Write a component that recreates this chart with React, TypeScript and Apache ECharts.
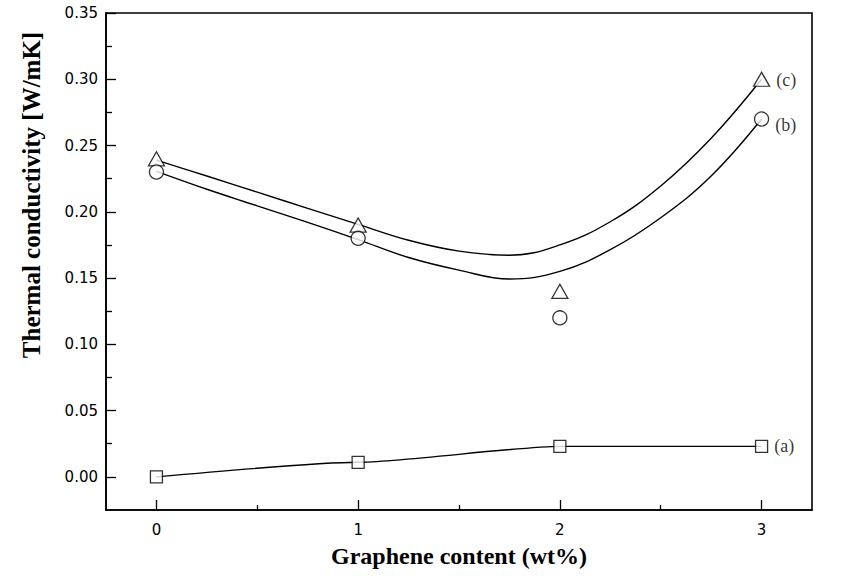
import React, { useEffect, useRef } from "react";
import * as echarts from "echarts";

// Measured data points
const xValues = [0, 1, 2, 3];
const seriesA = [0.0, 0.011, 0.023, 0.023];
const seriesB = [0.23, 0.18, 0.12, 0.27];
const seriesC = [0.24, 0.19, 0.14, 0.3];
const seriesLabels = ["(a)", "(b)", "(c)"];

// Fitted curves
const fitX = [0, 0.25, 0.5, 0.75, 1, 1.25, 1.5, 1.75, 2, 2.25, 2.5, 2.75, 3];
const fitC = [0.239, 0.227, 0.2148, 0.2026, 0.1905, 0.1785, 0.1703, 0.1672, 0.175, 0.1925, 0.2195, 0.2555, 0.3];
const fitB = [0.2305, 0.217, 0.2045, 0.192, 0.179, 0.1655, 0.156, 0.1493, 0.155, 0.1714, 0.1955, 0.227, 0.27];

// Axis ticks
const xMajorTicks = [0, 1, 2, 3];
const xMinorTicks = [0.5, 1.5, 2.5];
const yMajorTicks = [0, 0.05, 0.1, 0.15, 0.2, 0.25, 0.3, 0.35];
const yMinorTicks = [0.025, 0.075, 0.125, 0.175, 0.225, 0.275, 0.325];

const xTitle = "Graphene content (wt%)";
const yTitle = "Thermal conductivity [W/mK]";

const SERIF = "'Liberation Serif', 'Times New Roman', serif";
const SANS = "'DejaVu Sans', 'Liberation Sans', Arial, sans-serif";

function pairs(xs: number[], ys: number[]) {
  return xs.map((x, i) => [x, ys[i]]);
}

function markerData(ys: number[], label: string, dy: number) {
  return xValues.map((x, i) =>
    i === xValues.length - 1
      ? {
          value: [x, ys[i]],
          label: {
            show: true,
            formatter: label,
            position: "right",
            distance: 6,
            offset: [0, dy],
            color: "#000",
            fontFamily: SERIF,
            fontSize: 18,
          },
        }
      : { value: [x, ys[i]] }
  );
}

export default function App() {
  const ref = useRef<HTMLDivElement>(null);

  useEffect(() => {
    if (!ref.current) return;
    const chart = echarts.init(ref.current, null, { renderer: "svg" });
    const lineStyle = { color: "#000", width: 1.4 };
    const markerStyle = { color: "#fff", borderColor: "#000", borderWidth: 1.3 };
    const tickStyle = { color: "#000", width: 1.3 };

    chart.setOption({
      animation: false,
      backgroundColor: "#fff",
      grid: {
        left: 106,
        top: 13,
        right: 35,
        bottom: 73,
        show: true,
        borderColor: "#000",
        borderWidth: 1.6,
        outerBoundsMode: "none",
      },
      graphic: [
        {
          type: "text",
          x: 31,
          y: 195,
          rotation: Math.PI / 2,
          style: {
            text: yTitle,
            fontFamily: SERIF,
            fontWeight: "bold",
            fontSize: 25,
            fill: "#000",
            align: "center",
            verticalAlign: "middle",
          },
        },
      ],
      xAxis: [
        {
          type: "value",
          position: "bottom",
          min: -0.25,
          max: 3.25,
          name: xTitle,
          nameLocation: "middle",
          nameGap: 34,
          nameTextStyle: { fontFamily: SERIF, fontWeight: "bold", fontSize: 24, color: "#000" },
          axisLine: { show: true, onZero: false, lineStyle: { color: "#000", width: 1.6 } },
          axisTick: { show: true, inside: true, length: 10, customValues: xMajorTicks, lineStyle: tickStyle },
          axisLabel: {
            customValues: xMajorTicks,
            margin: 12,
            fontFamily: SANS,
            fontSize: 15,
            color: "#000",
            formatter: (v: number) => String(Math.round(v)),
          },
          splitLine: { show: false },
        },
        {
          type: "value",
          position: "bottom",
          min: -0.25,
          max: 3.25,
          axisLine: { show: false, onZero: false },
          axisTick: { show: true, inside: true, length: 5, customValues: xMinorTicks, lineStyle: tickStyle },
          axisLabel: { show: false },
          splitLine: { show: false },
        },
      ],
      yAxis: [
        {
          type: "value",
          position: "left",
          min: -0.025,
          max: 0.35,
          axisLine: { show: true, onZero: false, lineStyle: { color: "#000", width: 1.6 } },
          axisTick: { show: true, inside: true, length: 10, customValues: yMajorTicks, lineStyle: tickStyle },
          axisLabel: {
            customValues: yMajorTicks,
            margin: 8,
            fontFamily: SANS,
            fontSize: 15,
            color: "#000",
            formatter: (v: number) => v.toFixed(2),
          },
          splitLine: { show: false },
        },
        {
          type: "value",
          position: "left",
          min: -0.025,
          max: 0.35,
          axisLine: { show: false, onZero: false },
          axisTick: { show: true, inside: true, length: 6, customValues: yMinorTicks, lineStyle: tickStyle },
          axisLabel: { show: false },
          splitLine: { show: false },
        },
      ],
      series: [
        {
          type: "line",
          data: pairs(fitX, fitC),
          smooth: 0.4,
          showSymbol: false,
          lineStyle,
          z: 2,
        },
        {
          type: "line",
          data: pairs(fitX, fitB),
          smooth: 0.4,
          showSymbol: false,
          lineStyle,
          z: 2,
        },
        {
          type: "line",
          data: pairs(xValues, seriesA),
          smooth: 0.2,
          smoothMonotone: "x",
          showSymbol: false,
          lineStyle,
          z: 2,
        },
        {
          type: "scatter",
          symbol: "triangle",
          symbolSize: [16, 14],
          itemStyle: markerStyle,
          data: markerData(seriesC, seriesLabels[2], 1),
          z: 5,
        },
        {
          type: "scatter",
          symbol: "circle",
          symbolSize: 14,
          itemStyle: markerStyle,
          data: markerData(seriesB, seriesLabels[1], 6),
          z: 5,
        },
        {
          type: "scatter",
          symbol: "rect",
          symbolSize: 12,
          itemStyle: markerStyle,
          data: markerData(seriesA, seriesLabels[0], 0),
          z: 5,
        },
      ],
    });
    return () => chart.dispose();
  }, []);

  return (
    <div
      ref={ref}
      style={{ position: "fixed", left: 0, top: 0, width: 847, height: 583, background: "#fff" }}
    />
  );
}
